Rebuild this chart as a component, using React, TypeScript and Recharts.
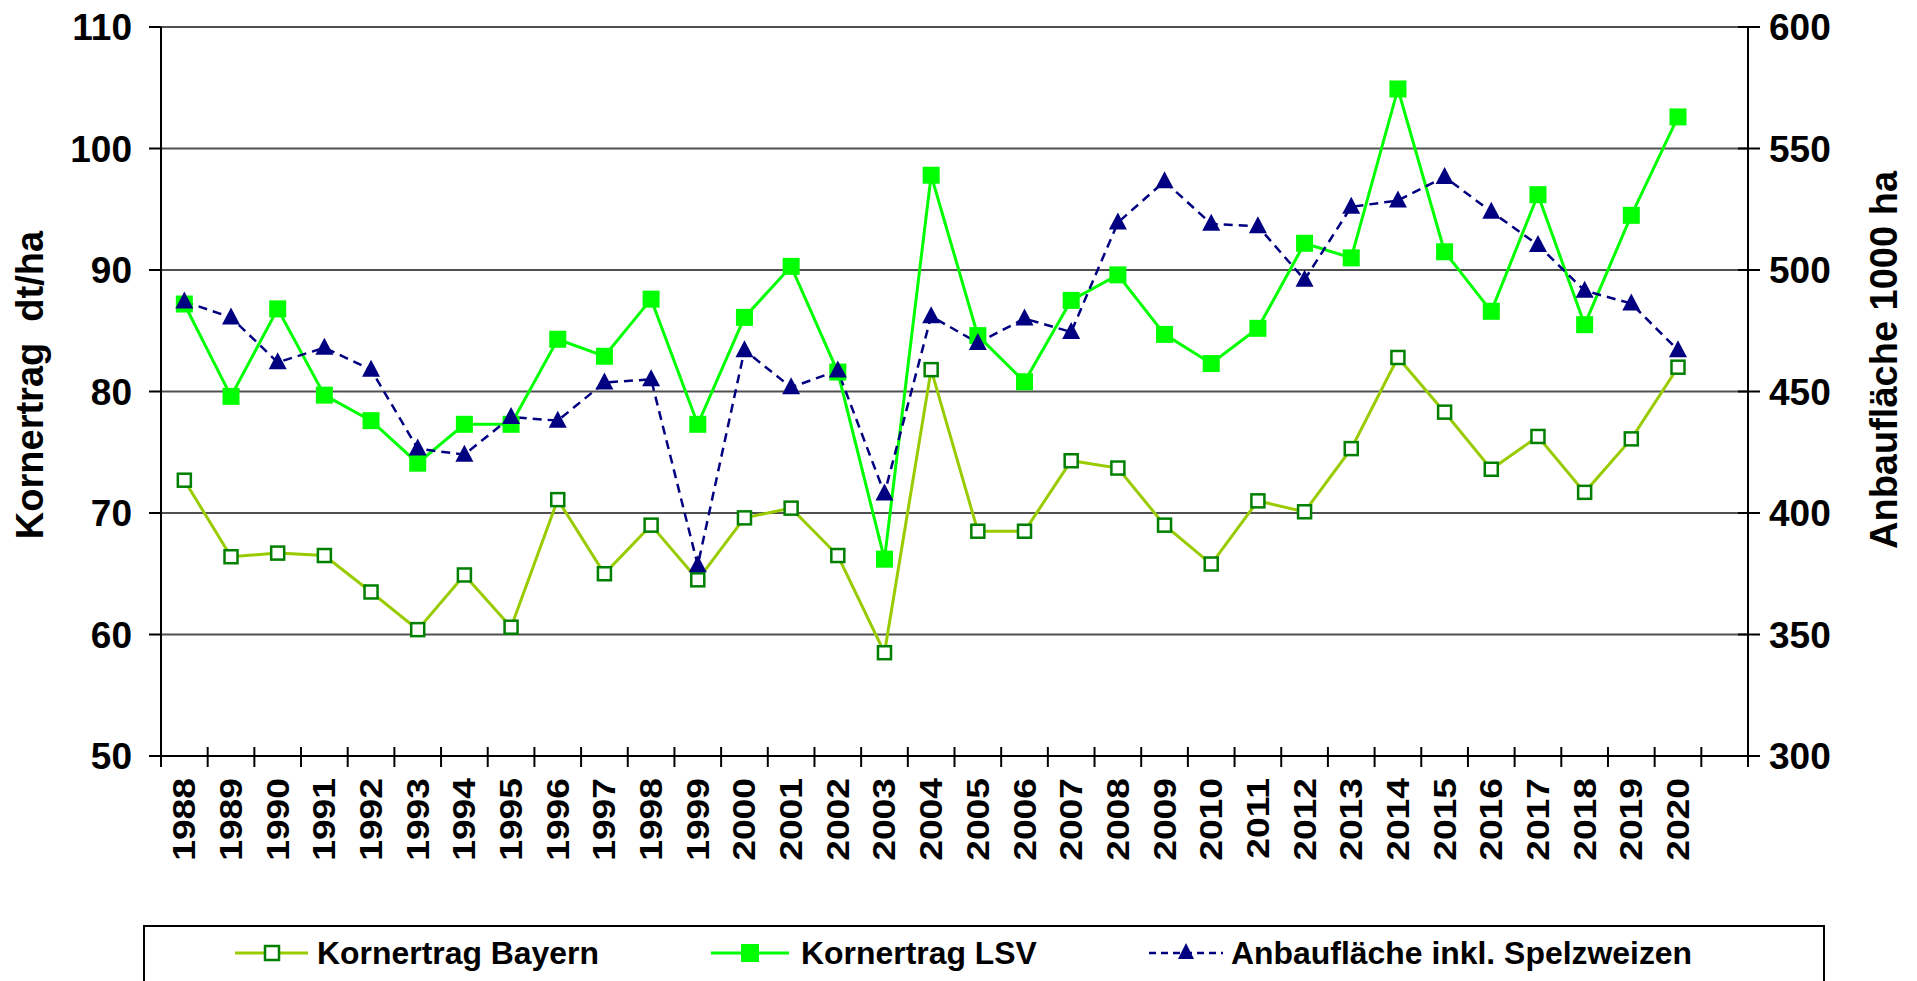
import { LineChart, Line, XAxis, YAxis, CartesianGrid, Label } from 'recharts'

const years = [
  '1988', '1989', '1990', '1991', '1992', '1993', '1994', '1995', '1996', '1997', '1998',
  '1999', '2000', '2001', '2002', '2003', '2004', '2005', '2006', '2007', '2008', '2009',
  '2010', '2011', '2012', '2013', '2014', '2015', '2016', '2017', '2018', '2019', '2020',
]

// Kornertrag dt/ha
const kornertragBayern = [
  72.7, 66.4, 66.7, 66.5, 63.5, 60.4, 64.9, 60.6, 71.1, 65.0, 69.0, 64.5, 69.6, 70.4, 66.5, 58.5,
  81.8, 68.5, 68.5, 74.3, 73.7, 69.0, 65.8, 71.0, 70.1, 75.3, 82.8, 78.3, 73.6, 76.3, 71.7, 76.1, 82.0,
]
const kornertragLSV = [
  87.2, 79.6, 86.8, 79.7, 77.6, 74.1, 77.3, 77.3, 84.3, 82.9, 87.6, 77.3, 86.1, 90.3, 81.6, 66.2,
  97.8, 84.6, 80.8, 87.5, 89.6, 84.7, 82.3, 85.2, 92.2, 91.0, 104.9, 91.5, 86.6, 96.2, 85.5, 94.5, 102.6,
]
// Anbaufläche 1000 ha
const anbauflaeche = [
  487, 480.5, 462, 468, 459, 426.5, 424, 439.5, 438, 453.7, 455, 378.5, 467, 451.7, 458.6, 408,
  481, 470, 480, 474.5, 519.5, 536.5, 519, 518, 496, 526, 528.6, 538.3, 524, 510.3, 491.5, 486.2, 467,
]

const leftTicks = [50, 60, 70, 80, 90, 100, 110]
const rightTicks = [300, 350, 400, 450, 500, 550, 600]

// one empty slot after 2020, like the original
const data = [
  ...years.map((year, i) => ({
    year,
    bayern: kornertragBayern[i],
    lsv: kornertragLSV[i],
    anbau: anbauflaeche[i],
  })),
  { year: '' },
]

const W = 1917
const H = 981
const LEFT_W = 161
const RIGHT_W = 169
const HALF_BAND = (W - LEFT_W - RIGHT_W) / data.length / 2
const FONT = '"Liberation Sans", Arial, sans-serif'

const BAYERN_LINE = '#99CC00'
const BAYERN_MARK = '#008000'
const LSV = '#00FF00'
const ANBAU = '#000080'

function OpenSquare(props: any) {
  const { cx, cy, index } = props
  if (cy == null || isNaN(cy)) return <g key={`b${index}`} />
  return (
    <rect key={`b${index}`} x={cx - 6.5} y={cy - 6.5} width={13} height={13}
      fill="#fff" stroke={BAYERN_MARK} strokeWidth={2.5} />
  )
}

function FilledSquare(props: any) {
  const { cx, cy, index } = props
  if (cy == null || isNaN(cy)) return <g key={`l${index}`} />
  return <rect key={`l${index}`} x={cx - 8.5} y={cy - 8.5} width={17} height={17} fill={LSV} />
}

function Triangle(props: any) {
  const { cx, cy, index } = props
  if (cy == null || isNaN(cy)) return <g key={`a${index}`} />
  return (
    <path key={`a${index}`} d={`M${cx},${cy - 10} L${cx - 9},${cy + 7} L${cx + 9},${cy + 7} Z`} fill={ANBAU} />
  )
}

function YearTick(props: any) {
  const { x, y, payload, index } = props
  return (
    <g>
      {index === 0 && <line x1={x - HALF_BAND} x2={x - HALF_BAND} y1={y - 9} y2={y + 11} stroke="#000" strokeWidth={2} />}
      <line x1={x + HALF_BAND} x2={x + HALF_BAND} y1={y - 9} y2={y + 11} stroke="#000" strokeWidth={2} />
      {payload.value !== '' && (
        <text transform={`translate(${x + 11},${y + 22}) rotate(-90) scale(1.2,1)`} textAnchor="end"
          fontFamily={FONT} fontWeight="bold" fontSize={31} fill="#000">
          {payload.value}
        </text>
      )}
    </g>
  )
}

function LeftTick(props: any) {
  const { x, y, payload } = props
  return (
    <g>
      <line x1={x - 12} x2={x} y1={y} y2={y} stroke="#000" strokeWidth={2} />
      <text x={x - 29} y={y} dy="0.36em" textAnchor="end" fontFamily={FONT}
        fontWeight="bold" fontSize={37} fill="#000">
        {payload.value}
      </text>
    </g>
  )
}

function RightTick(props: any) {
  const { x, y, payload } = props
  return (
    <g>
      <line x1={x - 10} x2={x + 12} y1={y} y2={y} stroke="#000" strokeWidth={2} />
      <text x={x + 21} y={y} dy="0.36em" textAnchor="start" fontFamily={FONT}
        fontWeight="bold" fontSize={37} fill="#000">
        {payload.value}
      </text>
    </g>
  )
}

function LegendBox() {
  const textProps = { fontFamily: FONT, fontWeight: 'bold', fontSize: 31, fill: '#000' }
  const ty = 964
  const ly = 953
  return (
    <svg width={W} height={H} style={{ position: 'absolute', left: 0, top: 0, pointerEvents: 'none' }}>
      <rect x={144} y={926} width={1680} height={80} fill="#fff" stroke="#000" strokeWidth={2} />
      {/* Kornertrag Bayern */}
      <line x1={235} x2={308} y1={ly} y2={ly} stroke={BAYERN_LINE} strokeWidth={3} />
      <rect x={265} y={ly - 7} width={14} height={14} fill="#fff" stroke={BAYERN_MARK} strokeWidth={2.5} />
      <text {...textProps} transform={`translate(317,${ty}) scale(1.03,1)`}>Kornertrag Bayern</text>
      {/* Kornertrag LSV */}
      <line x1={711} x2={789} y1={ly} y2={ly} stroke={LSV} strokeWidth={3} />
      <rect x={741} y={ly - 9} width={18} height={18} fill={LSV} />
      <text {...textProps} transform={`translate(801,${ty}) scale(1.03,1)`}>Kornertrag LSV</text>
      {/* Anbaufläche */}
      <line x1={1149} x2={1223} y1={ly} y2={ly} stroke={ANBAU} strokeWidth={2.5} strokeDasharray="7 5" />
      <path d={`M1186,${ly - 10} L1178,${ly + 6} L1194,${ly + 6} Z`} fill={ANBAU} />
      <text {...textProps} transform={`translate(1231,${ty}) scale(1.03,1)`}>Anbaufläche inkl. Spelzweizen</text>
    </svg>
  )
}

export default function App() {
  return (
    <div style={{ position: 'absolute', left: 0, top: 0, width: W, height: H, background: '#fff', overflow: 'hidden' }}>
      <LineChart width={W} height={H} data={data} margin={{ top: 27, right: 0, bottom: 0, left: 0 }}>
        <CartesianGrid yAxisId="left" vertical={false} stroke="#505050" strokeWidth={2} />
        <XAxis dataKey="year" scale="band" interval={0} height={225} tickSize={0} tickMargin={0}
          axisLine={{ stroke: '#000', strokeWidth: 2 }} tickLine={false} tick={<YearTick />} />
        <YAxis yAxisId="left" orientation="left" width={LEFT_W} domain={[50, 110]} ticks={leftTicks}
          tickSize={0} tickMargin={0} tickLine={false} axisLine={{ stroke: '#000', strokeWidth: 2 }}
          tick={<LeftTick />} allowDataOverflow>
          <Label content={() => (
            <text transform="translate(43,385) rotate(-90)" textAnchor="middle" fontFamily={FONT}
              fontWeight="bold" fontSize={38} fill="#000" style={{ whiteSpace: 'pre' }}>
              {'Kornertrag  dt/ha'}
            </text>
          )} />
        </YAxis>
        <YAxis yAxisId="right" orientation="right" width={RIGHT_W} domain={[300, 600]} ticks={rightTicks}
          tickSize={0} tickMargin={0} tickLine={false} axisLine={{ stroke: '#000', strokeWidth: 2 }}
          tick={<RightTick />} allowDataOverflow>
          <Label content={() => (
            <text transform="translate(1897,360) rotate(-90)" textAnchor="middle" fontFamily={FONT}
              fontWeight="bold" fontSize={38} fill="#000">
              Anbaufläche 1000 ha
            </text>
          )} />
        </YAxis>
        <Line yAxisId="left" type="linear" dataKey="bayern" stroke={BAYERN_LINE} strokeWidth={3}
          dot={OpenSquare} activeDot={false} isAnimationActive={false} />
        <Line yAxisId="left" type="linear" dataKey="lsv" stroke={LSV} strokeWidth={3}
          dot={FilledSquare} activeDot={false} isAnimationActive={false} />
        <Line yAxisId="right" type="linear" dataKey="anbau" stroke={ANBAU} strokeWidth={2.5}
          strokeDasharray="9 6" dot={Triangle} activeDot={false} isAnimationActive={false} />
      </LineChart>
      <LegendBox />
    </div>
  )
}
